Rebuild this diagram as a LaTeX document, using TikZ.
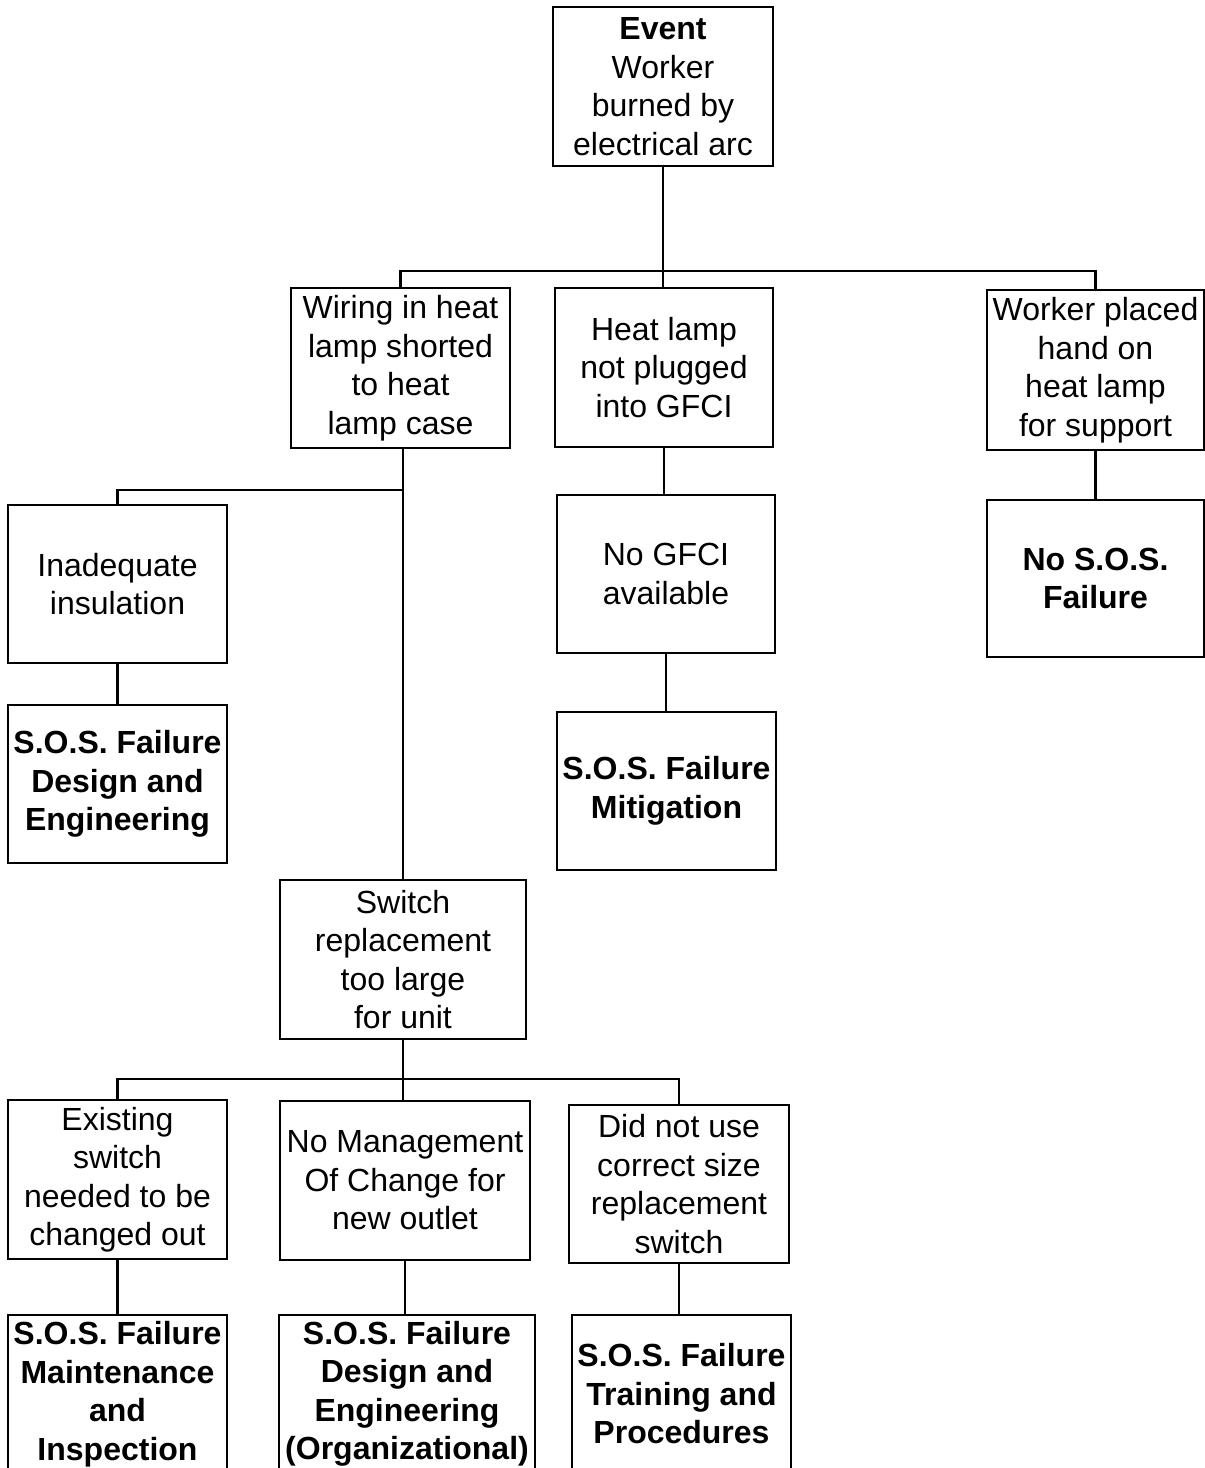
\documentclass[tikz,border=0pt]{standalone}
\usepackage{fontspec}
\setmainfont{Liberation Sans}
\begin{document}
\begin{tikzpicture}[x=1pt,y=-1pt,
  box/.style={draw, line width=2.2pt, rectangle, inner sep=0pt, align=center,
    font=\fontsize{32}{38.5}\selectfont},
  bbox/.style={box, font=\fontsize{32}{38.5}\selectfont\bfseries},
  conn/.style={line width=2.2pt}]
\useasboundingbox (0,0) rectangle (1205,1468);
\clip (0,0) rectangle (1205,1468);
\fill[white] (0,0) rectangle (1205,1468);
\node[box, minimum width=220pt, minimum height=159pt] (ev) at (663,86.5) {\textbf{Event}\\Worker\\burned by\\electrical arc};
\node[box, minimum width=219pt, minimum height=160pt] (wir) at (400.5,368) {Wiring in heat\\lamp shorted\\to heat\\lamp case};
\node[box, minimum width=218pt, minimum height=159pt] (heat) at (664,367.5) {Heat lamp\\not plugged\\into GFCI};
\node[box, minimum width=217pt, minimum height=160pt] (wpl) at (1095.5,370) {Worker placed\\hand on\\heat lamp\\for support};
\node[box, minimum width=219pt, minimum height=158pt] (inad) at (117.5,584) {Inadequate\\insulation};
\node[bbox, minimum width=219pt, minimum height=158pt] (sde) at (117.5,784) {S.O.S. Failure\\Design and\\Engineering};
\node[box, minimum width=218pt, minimum height=158pt] (gfci) at (666,574) {No GFCI\\available};
\node[bbox, minimum width=219pt, minimum height=158pt] (mit) at (666.5,791) {S.O.S. Failure\\Mitigation};
\node[bbox, minimum width=217pt, minimum height=157pt] (nosos) at (1095.5,578.5) {No S.O.S.\\Failure};
\node[box, minimum width=246pt, minimum height=159pt] (sw) at (403,959.5) {Switch\\replacement\\too large\\for unit};
\node[box, minimum width=219pt, minimum height=159pt] (ex) at (117.5,1179.5) {Existing\\switch\\needed to be\\changed out};
\node[box, minimum width=250pt, minimum height=159pt] (nm) at (405,1180.5) {No Management\\Of Change for\\new outlet};
\node[box, minimum width=220pt, minimum height=158pt] (dn) at (679,1184) {Did not use\\correct size\\replacement\\switch};
\node[bbox, minimum width=219pt, minimum height=158pt] (sm) at (117.5,1394) {S.O.S. Failure\\Maintenance\\and\\Inspection};
\node[bbox, minimum width=256pt, minimum height=158pt] (so) at (407,1394) {S.O.S. Failure\\Design and\\Engineering\\(Organizational)};
\node[bbox, minimum width=219pt, minimum height=158pt] (st) at (681.5,1394) {S.O.S. Failure\\Training and\\Procedures};
\coordinate (bus1) at (663,271);
\coordinate (bus2) at (403,490);
\coordinate (bus3) at (403,1079);
\draw[conn] (ev.south) -- (bus1);
\draw[conn] (wir.north) |- (bus1) -| (wpl.north);
\draw[conn] (bus1) -- (bus1 |- heat.north);
\draw[conn] (wir.south -| sw.north) -- (sw.north);
\draw[conn] (bus2) -| (inad.north);
\draw[conn] (inad.south) -- (sde.north);
\draw[conn] (heat.south) -- (heat.south |- gfci.north);
\draw[conn] (gfci.south) -- (gfci.south |- mit.north);
\draw[conn] (wpl.south) -- (wpl.south |- nosos.north);
\draw[conn] (sw.south) -- (bus3);
\draw[conn] (ex.north) |- (bus3) -| (dn.north);
\draw[conn] (bus3) -- (bus3 |- nm.north);
\draw[conn] (ex.south) -- (ex.south |- sm.north);
\draw[conn] (nm.south) -- (nm.south |- so.north);
\draw[conn] (dn.south) -- (dn.south |- st.north);
\end{tikzpicture}
\end{document}
